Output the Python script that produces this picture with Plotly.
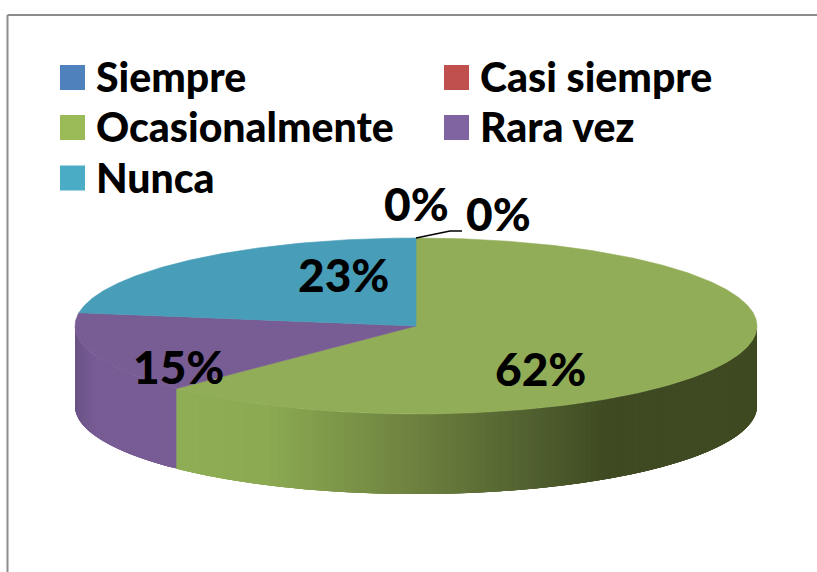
"""3D style pie chart of answer frequencies, drawn on pixel-like axes."""

import math

import plotly.graph_objects as go

CATEGORIES = ["Siempre", "Casi siempre", "Ocasionalmente", "Rara vez", "Nunca"]
VALUES = [0, 0, 62.4, 15, 22.6]
LABELS = ["0%", "0%", "62%", "15%", "23%"]

LEGEND_COLORS = ["#4f81bd", "#c0504d", "#9bbb59", "#8064a2", "#4bacc6"]
TOP_COLORS = ["#4f81bd", "#c0504d", "#92ad57", "#785c94", "#489eb8"]

WIDTH, HEIGHT = 817, 572
CX, CY, RX, RY, DEPTH = 416, 326, 341, 88, 80
FONT = "Lato, Carlito, sans-serif"

# x of the side wall -> colour, for the shading of the green wall
GREEN_SIDE = [(175, (143, 174, 85)), (270, (140, 170, 82)), (420, (109, 129, 63)),
              (520, (84, 100, 50)), (610, (63, 74, 34)), (757, (63, 74, 34))]
PURPLE_SIDE = [(75, (107, 84, 135)), (95, (120, 92, 148)), (175, (120, 92, 148))]


def point(deg, drop=0):
    a = math.radians(deg)
    return CX + RX * math.sin(a), CY - RY * math.cos(a) + drop


def arc(start, end, per_deg=2):
    steps = max(2, int(abs(end - start) * per_deg))
    return [start + (end - start) * i / steps for i in range(steps + 1)]


def ramp(stops, x):
    for (x0, c0), (x1, c1) in zip(stops, stops[1:]):
        if x <= x1:
            t = max(0, (x - x0) / (x1 - x0))
            return "rgb(%d,%d,%d)" % tuple(c0[i] + (c1[i] - c0[i]) * t for i in range(3))
    return "rgb(%d,%d,%d)" % stops[-1][1]


def polygon(xs, ys, color, width=0.6):
    return go.Scatter(x=xs, y=ys, mode="lines", fill="toself", fillcolor=color,
                      line=dict(color=color, width=width), hoverinfo="skip", showlegend=False)


fig = go.Figure()

# slice angles, clockwise from 12 o'clock
angles = []
start = 0
total = sum(VALUES)
for value in VALUES:
    end = start + value / total * 360
    angles.append((start, end))
    start = end

# front wall: strips overlap so no light seams show between them
for (start, end), name in zip(angles, CATEGORIES):
    lo, hi = max(start, 90), min(end, 270)
    if hi <= lo:
        continue
    stops = GREEN_SIDE if name == "Ocasionalmente" else PURPLE_SIDE
    steps = arc(lo, hi)
    for a0, a1 in zip(steps, steps[1:]):
        x0, y0 = point(a0)
        x1, y1 = point(min(a1 + 1.5, hi))
        fig.add_trace(polygon([x0, x1, x1, x0, x0], [y0, y1, y1 + DEPTH, y0 + DEPTH, y0],
                              ramp(stops, x0), width=0))

# top face
for (start, end), color in zip(angles, TOP_COLORS):
    if end - start <= 0:
        continue
    rim = [point(a) for a in arc(start, end)]
    fig.add_trace(polygon([CX] + [p[0] for p in rim] + [CX], [CY] + [p[1] for p in rim] + [CY], color))

# leader line of the two empty slices
fig.add_trace(go.Scatter(x=[416, 450, 462], y=[238, 231, 231], mode="lines",
                         line=dict(color="black", width=1.5), hoverinfo="skip", showlegend=False))

# legend
LEGEND_X = [72.5, 456.5, 72.5, 456.5, 72.5]
LEGEND_Y = [77.5, 77.5, 127.5, 127.5, 178]
for name, color, lx, ly in zip(CATEGORIES, LEGEND_COLORS, LEGEND_X, LEGEND_Y):
    fig.add_trace(go.Scatter(x=[lx], y=[ly], mode="markers", hoverinfo="skip", showlegend=False,
                             marker=dict(symbol="square", size=25, color=color, line=dict(width=0))))
    fig.add_annotation(x=lx + 21, y=ly - 1, text=name, showarrow=False, xanchor="left",
                       font=dict(family=FONT, size=41, color="black", weight=900))

LABEL_X = [416, 498, 540, 178, 343]
LABEL_Y = [203, 213, 368, 366, 274]
for text, lx, ly in zip(LABELS, LABEL_X, LABEL_Y):
    fig.add_annotation(x=lx, y=ly, text=text, showarrow=False,
                       font=dict(family=FONT, size=46, color="black", weight=900))

# chart frame, cut by the page edge
fig.add_shape(type="line", x0=7.5, y0=572, x1=7.5, y1=15, line=dict(color="#8c8c8c", width=2))
fig.add_shape(type="line", x0=7.5, y0=15, x1=817, y1=15, line=dict(color="#8c8c8c", width=2))

fig.update_xaxes(range=[0, WIDTH], visible=False, fixedrange=True)
fig.update_yaxes(range=[HEIGHT, 0], visible=False, fixedrange=True)
fig.update_layout(width=WIDTH, height=HEIGHT, margin=dict(l=0, r=0, t=0, b=0),
                  paper_bgcolor="white", plot_bgcolor="white", showlegend=False)

fig.write_html("out.html", config={"displayModeBar": False},
               post_script="document.body.style.margin = '0';")
